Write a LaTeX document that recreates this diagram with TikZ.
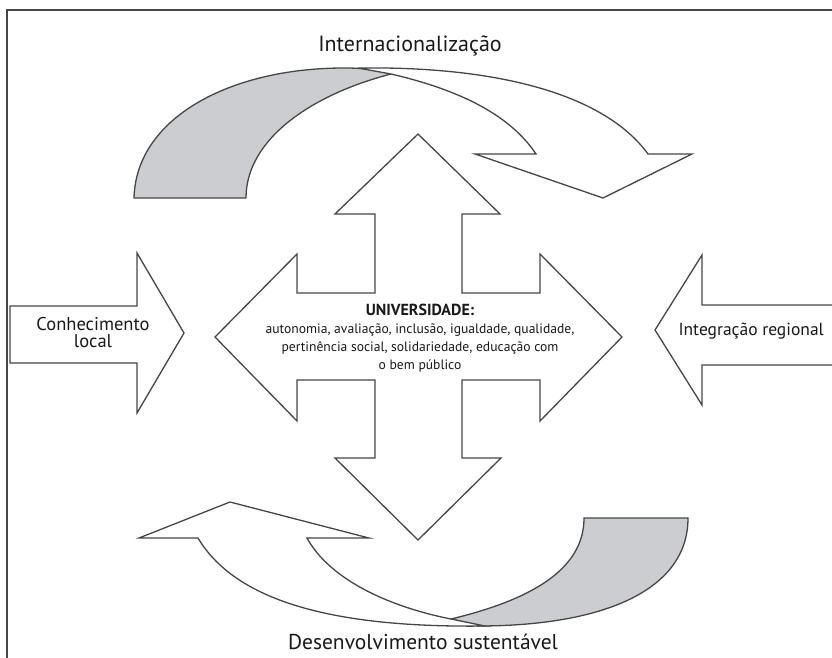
\documentclass[tikz,border=0pt]{standalone}
\usepackage{fontspec}
\setmainfont{PT Sans}
\definecolor{ribbongray}{RGB}{204,205,208}
\definecolor{linegray}{RGB}{70,70,70}
\begin{document}
\begin{tikzpicture}[x=1pt,y=-1pt,
  shapeline/.style={draw=linegray, line width=1.3pt, line join=miter},
  grayface/.style={shapeline, fill=ribbongray},
  whiteface/.style={shapeline, fill=white},
  framestyle/.style={draw=linegray, line width=1.2pt},
  lbl/.style={inner sep=0pt, align=center, text=black!90}]
\useasboundingbox (0,0) rectangle (832,658);

% frame
\coordinate (fr1) at (840,10);
\coordinate (fr2) at (7,10);
\coordinate (fr3) at (7,670);
\draw[framestyle] (fr1) -- (fr2) -- (fr3);

% top ribbon (Internacionalizacao)
\draw[grayface] (134,198) .. controls (136,118) and (230,68) .. (344,68)
  .. controls (365,68) and (380,70) .. (391,74)
  .. controls (310,95) and (246,140) .. (246,198) -- cycle;
\draw[whiteface] (391,74) -- (358,68)
  .. controls (500,66) and (605,95) .. (648,154)
  -- (692,154) -- (603,198) -- (475,154) -- (536,154)
  .. controls (510,115) and (460,90) .. (391,74) -- cycle;

% bottom ribbon (Desenvolvimento sustentavel)
\draw[grayface] (688,518) .. controls (688,592) and (600,626) .. (478,626)
  -- (451,619)
  .. controls (530,600) and (584,570) .. (584,518) -- cycle;
\draw[whiteface] (451,619) -- (485,626)
  .. controls (330,628) and (235,600) .. (198,538)
  -- (139,538) -- (230,502) -- (369,538) -- (307,538)
  .. controls (330,580) and (390,607) .. (451,619) -- cycle;

% central cross
\draw[whiteface] (418,134) -- (500,214) -- (462,214) -- (462,293) -- (540,293)
  -- (540,254) -- (622,337) -- (540,421) -- (540,380) -- (462,380)
  -- (462,458) -- (501,458) -- (418,540) -- (335,458) -- (375,458)
  -- (375,380) -- (297,380) -- (297,421) -- (215,337) -- (297,254)
  -- (297,293) -- (375,293) -- (375,214) -- (335,214) -- cycle;

% side arrows
\draw[whiteface] (10,306) -- (137,306) -- (137,253) -- (184,333) -- (137,413)
  -- (137,363) -- (10,363) -- cycle;
\draw[whiteface] (845,305) -- (702,305) -- (702,255) -- (655,330) -- (702,405)
  -- (702,365) -- (845,365);

% labels
\node[lbl, font=\fontsize{22}{26}\selectfont] (tint) at (410,46) {Internacionaliza\c{c}\~ao};
\node[lbl, font=\fontsize{21.5}{26}\selectfont] (tdes) at (423,642) {Desenvolvimento sustent\'avel};
\node[lbl, font=\fontsize{18.5}{17}\selectfont] (tcon) at (93,333) {Conhecimento\\local};
\node[lbl, font=\fontsize{17.5}{18}\selectfont, anchor=east] (treg) at (824,331) {Integra\c{c}\~ao regional};
\node[lbl, font=\fontsize{13.6}{18}\selectfont] (tuni) at (420,338)
  {{\fontsize{16}{18}\selectfont\bfseries UNIVERSIDADE:}\\
   autonomia, avalia\c{c}\~ao, inclus\~ao, igualdade, qualidade,\\
   pertin\^encia social, solidariedade, educa\c{c}\~ao com\\
   o bem p\'ublico};
\end{tikzpicture}
\end{document}
